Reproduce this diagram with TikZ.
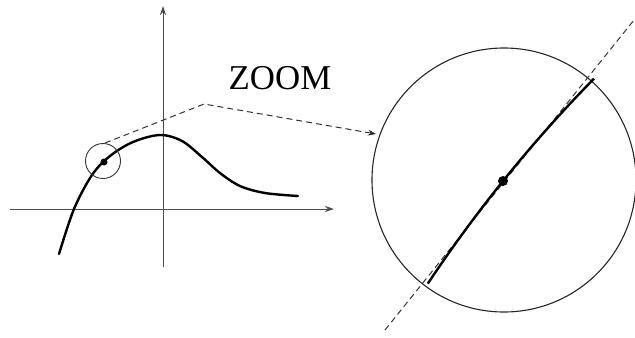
\documentclass[tikz,border=0pt]{standalone}
\usepackage{fontspec}
\setmainfont{Liberation Serif}
\usetikzlibrary{arrows.meta}
\tikzset{
  axis/.style={line width=1bp, black!70, -{Stealth[length=9bp,width=6bp]}},
  curvestyle/.style={line width=2.4bp, black, line cap=round},
  thincircle/.style={line width=0.9bp, black!80},
  dashline/.style={line width=1bp, black!80, dash pattern=on 6bp off 4bp},
}
\begin{document}
\begin{tikzpicture}[x=1bp,y=-1bp]
\useasboundingbox (0,0) rectangle (635,337);
% axes
\coordinate (xs) at (10,209);
\coordinate (xe) at (334,209);
\coordinate (ys) at (163,267);
\coordinate (ye) at (163,6);
\draw[axis] (xs) -- (xe);
\draw[axis] (ys) -- (ye);
% curve
\draw[curvestyle] plot[smooth, tension=0.55] coordinates {
  (59,254) (74,209) (92,175) (110,156) (133,142) (160,135)
  (182,141) (202,157) (220,173) (240,186) (265,193) (298,196)};
% small circle and point
\node[draw, thincircle, circle, minimum size=35bp, inner sep=0pt] (small) at (103,161) {};
\fill (104,162) circle (3.5bp);
% zoom label
\node[font=\fontsize{35}{40}\selectfont, inner sep=0pt] (lbl) at (280,78) {ZOOM};
% dashed connector with kink
\coordinate (d0) at (105,143);
\coordinate (kink) at (204,104);
\coordinate (tip) at (376,134);
\draw[dashline, -{Stealth[length=8bp,width=6bp]}] (d0) -- (kink) -- (tip);
% big circle
\node[draw, circle, line width=1.1bp, black!85, minimum size=264bp, inner sep=0pt] (big) at (504,180) {};
% dashed tangent
\coordinate (tb) at (385,330);
\coordinate (tt) at (634,20);
\draw[dashline] (tb) -- (tt);
% zoomed curve
\draw[line width=2.4bp, black] plot[domain=-127:137, samples=30, smooth]
  ({503+0.627*\x+0.779*0.00037*\x*\x},{181-0.779*\x+0.627*0.00037*\x*\x});
\fill (503,181) circle (5bp);
\end{tikzpicture}
\end{document}
